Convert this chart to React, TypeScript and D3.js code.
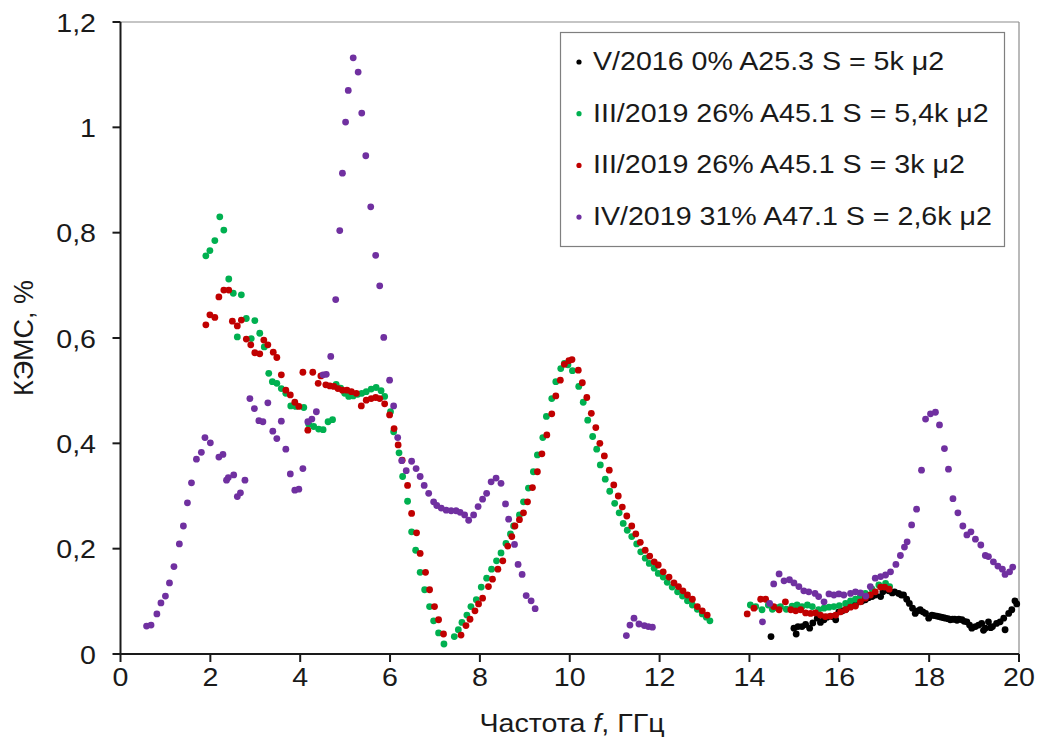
import React from "react";
import * as d3 from "d3";

type Pt = [number, number];

const xTicks = [0, 2, 4, 6, 8, 10, 12, 14, 16, 18, 20];
const yTicks = [0, 0.2, 0.4, 0.6, 0.8, 1.0, 1.2];
const yTickLabels = ["0", "0,2", "0,4", "0,6", "0,8", "1", "1,2"];

const seriesNames = [
  "V/2016 0% A25.3 S = 5k μ2",
  "III/2019 26% A45.1 S = 5,4k μ2",
  "III/2019 26% A45.1 S = 3k μ2",
  "IV/2019 31% A47.1 S = 2,6k μ2",
];
const seriesColors = ["#000000", "#00B050", "#C00000", "#7030A0"];

const blackV2016: Pt[] = [
  [14.48, 0.033], [14.99, 0.049], [15.04, 0.038], [15.08, 0.052], [15.17, 0.052], [15.25, 0.056],
  [15.34, 0.049], [15.41, 0.059], [15.51, 0.068], [15.58, 0.06], [15.66, 0.065], [15.73, 0.07],
  [15.84, 0.071], [15.92, 0.065], [15.99, 0.08], [16.07, 0.082], [16.15, 0.085], [16.22, 0.09],
  [16.29, 0.093], [16.36, 0.095], [16.43, 0.099], [16.5, 0.1], [16.58, 0.103], [16.65, 0.107],
  [16.73, 0.109], [16.8, 0.112], [16.92, 0.109], [16.97, 0.118], [17.03, 0.122], [17.1, 0.12],
  [17.18, 0.116], [17.23, 0.118], [17.32, 0.115], [17.38, 0.112], [17.43, 0.112], [17.5, 0.104],
  [17.56, 0.096], [17.63, 0.087], [17.69, 0.077], [17.75, 0.082], [17.8, 0.084], [17.86, 0.08],
  [17.92, 0.077], [17.99, 0.068], [18.06, 0.074], [18.11, 0.073], [18.17, 0.072], [18.22, 0.071],
  [18.27, 0.07], [18.32, 0.069], [18.36, 0.068], [18.42, 0.067], [18.47, 0.065], [18.52, 0.066],
  [18.57, 0.066], [18.62, 0.064], [18.66, 0.066], [18.73, 0.065], [18.78, 0.062], [18.84, 0.061],
  [18.9, 0.055], [18.95, 0.049], [19.03, 0.052], [19.1, 0.055], [19.17, 0.058], [19.21, 0.045],
  [19.25, 0.049], [19.32, 0.061], [19.37, 0.05], [19.41, 0.052], [19.5, 0.058], [19.58, 0.061],
  [19.66, 0.068], [19.69, 0.046], [19.77, 0.077], [19.84, 0.084], [19.91, 0.101], [19.95, 0.095],
];

const greenIII54: Pt[] = [
  [1.9, 0.756], [1.99, 0.766], [2.1, 0.785], [2.21, 0.83], [2.3, 0.805], [2.41, 0.712], [2.51, 0.685],
  [2.6, 0.602], [2.69, 0.682], [2.8, 0.637], [2.91, 0.599], [2.99, 0.633], [3.1, 0.609], [3.2, 0.583],
  [3.3, 0.533], [3.38, 0.517], [3.48, 0.514], [3.58, 0.504], [3.68, 0.495], [3.79, 0.471], [3.9, 0.47],
  [4.08, 0.468], [4.19, 0.436], [4.3, 0.432], [4.41, 0.427], [4.51, 0.426], [4.62, 0.441], [4.72, 0.445],
  [4.8, 0.512], [4.9, 0.505], [4.99, 0.495], [5.08, 0.489], [5.18, 0.49], [5.28, 0.493], [5.37, 0.495],
  [5.47, 0.498], [5.58, 0.503], [5.69, 0.506], [5.8, 0.5], [5.88, 0.489], [6.01, 0.46], [6.08, 0.422],
  [6.2, 0.382], [6.28, 0.337], [6.39, 0.29], [6.48, 0.232], [6.57, 0.197], [6.67, 0.155], [6.77, 0.122],
  [6.88, 0.09], [6.97, 0.063], [7.08, 0.04], [7.2, 0.019], [7.43, 0.033], [7.52, 0.046], [7.6, 0.06],
  [7.71, 0.074], [7.8, 0.09], [7.92, 0.103], [8.03, 0.127], [8.15, 0.144], [8.26, 0.161], [8.37, 0.177],
  [8.47, 0.192], [8.58, 0.21], [8.68, 0.228], [8.75, 0.243], [8.88, 0.264], [8.97, 0.289], [9.08, 0.315],
  [9.19, 0.346], [9.28, 0.378], [9.4, 0.411], [9.48, 0.451], [9.6, 0.485], [9.69, 0.517], [9.8, 0.542],
  [9.88, 0.552], [9.96, 0.549], [10.06, 0.538], [10.2, 0.508], [10.3, 0.478], [10.4, 0.444], [10.51, 0.413],
  [10.6, 0.389], [10.68, 0.359], [10.79, 0.332], [10.89, 0.309], [11.0, 0.286], [11.1, 0.268], [11.19, 0.248],
  [11.28, 0.235], [11.38, 0.223], [11.49, 0.209], [11.58, 0.194], [11.68, 0.182], [11.77, 0.172],
  [11.88, 0.163], [11.97, 0.153], [12.08, 0.146], [12.17, 0.136], [12.28, 0.127], [12.4, 0.118],
  [12.51, 0.11], [12.62, 0.101], [12.73, 0.093], [12.84, 0.085], [12.95, 0.076], [13.04, 0.07],
  [13.12, 0.063], [14.02, 0.093], [14.14, 0.09], [14.28, 0.084], [14.42, 0.093], [14.51, 0.085],
  [14.6, 0.088], [14.69, 0.09], [14.82, 0.085], [14.95, 0.091], [15.06, 0.093], [15.17, 0.09],
  [15.29, 0.093], [15.4, 0.09], [15.54, 0.084], [15.66, 0.087], [15.77, 0.089], [15.88, 0.09],
  [16.0, 0.092], [16.14, 0.096], [16.25, 0.101], [16.36, 0.104], [16.47, 0.11], [16.58, 0.115],
  [16.73, 0.123], [16.88, 0.131], [17.03, 0.134], [17.12, 0.128],
];

const redIII3: Pt[] = [
  [1.9, 0.625], [1.99, 0.644], [2.1, 0.639], [2.19, 0.678], [2.3, 0.691], [2.41, 0.691], [2.49, 0.632],
  [2.6, 0.623], [2.69, 0.634], [2.8, 0.598], [2.9, 0.587], [2.99, 0.572], [3.1, 0.57], [3.19, 0.596],
  [3.28, 0.587], [3.4, 0.573], [3.48, 0.563], [3.58, 0.53], [3.68, 0.501], [3.78, 0.492], [3.88, 0.478],
  [3.97, 0.47], [4.06, 0.535], [4.17, 0.425], [4.28, 0.535], [4.4, 0.514], [4.46, 0.528], [4.57, 0.511],
  [4.66, 0.509], [4.75, 0.508], [4.84, 0.504], [4.94, 0.501], [5.04, 0.501], [5.14, 0.498], [5.25, 0.495],
  [5.36, 0.471], [5.47, 0.482], [5.58, 0.485], [5.68, 0.487], [5.77, 0.485], [5.88, 0.475], [5.99, 0.454],
  [6.09, 0.428], [6.18, 0.397], [6.27, 0.368], [6.39, 0.32], [6.48, 0.267], [6.59, 0.23], [6.67, 0.191],
  [6.79, 0.155], [6.88, 0.122], [6.99, 0.09], [7.08, 0.065], [7.19, 0.038], [7.58, 0.036], [7.69, 0.054],
  [7.78, 0.066], [7.89, 0.082], [7.97, 0.095], [8.06, 0.106], [8.19, 0.128], [8.28, 0.142], [8.4, 0.161],
  [8.51, 0.177], [8.62, 0.205], [8.71, 0.223], [8.78, 0.243], [8.88, 0.255], [8.97, 0.268], [9.06, 0.289],
  [9.17, 0.316], [9.28, 0.346], [9.38, 0.38], [9.49, 0.416], [9.6, 0.456], [9.69, 0.49], [9.79, 0.52],
  [9.88, 0.55], [9.98, 0.557], [10.05, 0.559], [10.19, 0.539], [10.28, 0.515], [10.38, 0.487], [10.48, 0.457],
  [10.58, 0.43], [10.67, 0.4], [10.77, 0.376], [10.88, 0.349], [10.98, 0.321], [11.08, 0.3], [11.17, 0.279],
  [11.27, 0.262], [11.38, 0.243], [11.47, 0.228], [11.57, 0.212], [11.68, 0.197], [11.78, 0.186],
  [11.88, 0.175], [11.97, 0.169], [12.08, 0.156], [12.21, 0.146], [12.32, 0.135], [12.42, 0.128],
  [12.52, 0.12], [12.62, 0.112], [12.73, 0.104], [12.84, 0.09], [12.95, 0.082], [13.06, 0.074],
  [13.95, 0.076], [14.1, 0.087], [14.25, 0.104], [14.36, 0.104], [14.54, 0.09], [14.66, 0.084],
  [14.8, 0.099], [14.92, 0.084], [15.03, 0.082], [15.14, 0.084], [15.25, 0.078], [15.36, 0.077],
  [15.47, 0.078], [15.58, 0.074], [15.69, 0.071], [15.8, 0.072], [15.92, 0.074], [16.03, 0.08],
  [16.14, 0.084], [16.25, 0.089], [16.36, 0.091], [16.47, 0.099], [16.58, 0.106], [16.69, 0.112],
  [16.8, 0.118], [16.92, 0.127], [17.01, 0.127], [17.11, 0.123],
];

const purpleIV: Pt[] = [
  [0.58, 0.053], [0.68, 0.055], [0.81, 0.076], [0.9, 0.097], [1.0, 0.11], [1.09, 0.135], [1.19, 0.166],
  [1.31, 0.209], [1.4, 0.243], [1.49, 0.287], [1.58, 0.325], [1.69, 0.37], [1.8, 0.383], [1.88, 0.411],
  [2.0, 0.401], [2.19, 0.374], [2.28, 0.379], [2.36, 0.33], [2.4, 0.335], [2.52, 0.34], [2.6, 0.299],
  [2.67, 0.306], [2.77, 0.33], [2.88, 0.485], [2.98, 0.466], [3.08, 0.443], [3.17, 0.441], [3.28, 0.477],
  [3.39, 0.423], [3.48, 0.409], [3.58, 0.442], [3.68, 0.389], [3.78, 0.342], [3.88, 0.311], [3.97, 0.313],
  [4.06, 0.352], [4.17, 0.441], [4.26, 0.446], [4.36, 0.46], [4.51, 0.53], [4.58, 0.531], [4.68, 0.565],
  [4.79, 0.673], [4.88, 0.804], [4.94, 0.913], [5.01, 1.01], [5.07, 1.07], [5.18, 1.132], [5.29, 1.105],
  [5.37, 1.027], [5.46, 0.946], [5.57, 0.849], [5.68, 0.757], [5.77, 0.699], [5.86, 0.601], [5.99, 0.52],
  [6.08, 0.471], [6.17, 0.411], [6.26, 0.367], [6.36, 0.348], [6.48, 0.366], [6.58, 0.352], [6.67, 0.337],
  [6.76, 0.32], [6.86, 0.305], [6.97, 0.289], [7.04, 0.282], [7.14, 0.277], [7.25, 0.273], [7.36, 0.272],
  [7.47, 0.272], [7.56, 0.269], [7.66, 0.264], [7.75, 0.254], [7.86, 0.264], [7.96, 0.28], [8.06, 0.294],
  [8.15, 0.305], [8.25, 0.327], [8.36, 0.334], [8.47, 0.324], [8.57, 0.285], [8.64, 0.256], [8.77, 0.208],
  [8.85, 0.17], [8.94, 0.151], [9.03, 0.111], [9.14, 0.101], [9.23, 0.086], [11.26, 0.035], [11.34, 0.055],
  [11.43, 0.068], [11.54, 0.057], [11.66, 0.054], [11.75, 0.052], [11.84, 0.051], [14.29, 0.061],
  [14.45, 0.096], [14.54, 0.133], [14.66, 0.152], [14.77, 0.139], [14.89, 0.141], [14.99, 0.135],
  [15.1, 0.128], [15.21, 0.12], [15.32, 0.118], [15.46, 0.115], [15.54, 0.109], [15.66, 0.099],
  [15.77, 0.114], [15.88, 0.112], [15.99, 0.114], [16.1, 0.112], [16.25, 0.115], [16.36, 0.118],
  [16.47, 0.116], [16.59, 0.11], [16.69, 0.128], [16.8, 0.144], [16.92, 0.147], [17.03, 0.15],
  [17.14, 0.156], [17.26, 0.17], [17.36, 0.187], [17.45, 0.203], [17.51, 0.213], [17.61, 0.245],
  [17.72, 0.275], [17.83, 0.349], [17.92, 0.446], [18.03, 0.456], [18.14, 0.459], [18.23, 0.435],
  [18.34, 0.39], [18.43, 0.351], [18.53, 0.295], [18.64, 0.268], [18.75, 0.243], [18.84, 0.226],
  [18.93, 0.232], [19.03, 0.218], [19.15, 0.207], [19.25, 0.187], [19.32, 0.185], [19.43, 0.175],
  [19.53, 0.167], [19.63, 0.161], [19.69, 0.151], [19.79, 0.156], [19.86, 0.165],
];

const allSeries = [blackV2016, greenIII54, redIII3, purpleIV];

const W = 1043;
const H = 747;
const FONT = "'Liberation Sans', Arial, sans-serif";
const SX = 1.1; // horizontal stretch of the reference's text

export default function App() {
  const x = d3.scaleLinear().domain([0, 20]).range([120.5, 1019]);
  const y = d3.scaleLinear().domain([0, 1.2]).range([654, 22]);
  const x0 = x(0), x1 = x(20), y0 = y(0), y1 = y(1.2);
  const fs = 26;

  return (
    <svg width={W} height={H} style={{ position: "absolute", left: 0, top: 0, background: "#fff" }}
      fontFamily={FONT}>
      <rect x={0} y={0} width={W} height={H} fill="#fff" />
      <line x1={x0} x2={x1} y1={y1} y2={y1} stroke="#8c8c8c" strokeWidth={1.2} />
      <line x1={x1} x2={x1} y1={y1} y2={y0} stroke="#8c8c8c" strokeWidth={1.2} />
      {allSeries.map((s, i) => (
        <g key={i} fill={seriesColors[i]}>
          {s.map((p, j) => (
            <circle key={j} cx={x(p[0])} cy={y(p[1])} r={3.4} />
          ))}
        </g>
      ))}
      <line x1={x0} x2={x1} y1={y0} y2={y0} stroke="#1a1a1a" strokeWidth={2} />
      <line x1={x0} x2={x0} y1={y1} y2={y0} stroke="#1a1a1a" strokeWidth={2} />
      {xTicks.map((t) => (
        <g key={"x" + t}>
          <line x1={x(t)} x2={x(t)} y1={y0} y2={y0 + 8} stroke="#1a1a1a" strokeWidth={2} />
          <text transform={`translate(${x(t)},686) scale(${SX},1)`} textAnchor="middle" fontSize={fs} fill="#1a1a1a">{t}</text>
        </g>
      ))}
      {yTicks.map((t, i) => (
        <g key={"y" + t}>
          <line x1={x0 - 8} x2={x0} y1={y(t)} y2={y(t)} stroke="#1a1a1a" strokeWidth={2} />
          <text transform={`translate(96,${y(t) + 9.5}) scale(${SX},1)`} textAnchor="end" fontSize={fs} fill="#1a1a1a">{yTickLabels[i]}</text>
        </g>
      ))}
      <text transform={`translate(572,732) scale(${SX},1)`} textAnchor="middle" fontSize={fs} fill="#1a1a1a">
        Частота <tspan fontStyle="italic">f</tspan>, ГГц
      </text>
      <text transform={`translate(33,${(y0 + y1) / 2}) rotate(-90)`} textAnchor="middle" fontSize={27} fill="#1a1a1a">
        КЭМС, %
      </text>
      <rect x={560.5} y={32.5} width={444} height={214} fill="#fff" stroke="#7f7f7f" strokeWidth={1.2} />
      {seriesNames.map((n, i) => (
        <g key={"l" + i}>
          <circle cx={579} cy={62 + i * 51.7} r={2.6} fill={seriesColors[i]} />
          <text transform={`translate(593,${70 + i * 51.7}) scale(${SX},1)`} fontSize={fs} fill="#1a1a1a">{n}</text>
        </g>
      ))}
    </svg>
  );
}
